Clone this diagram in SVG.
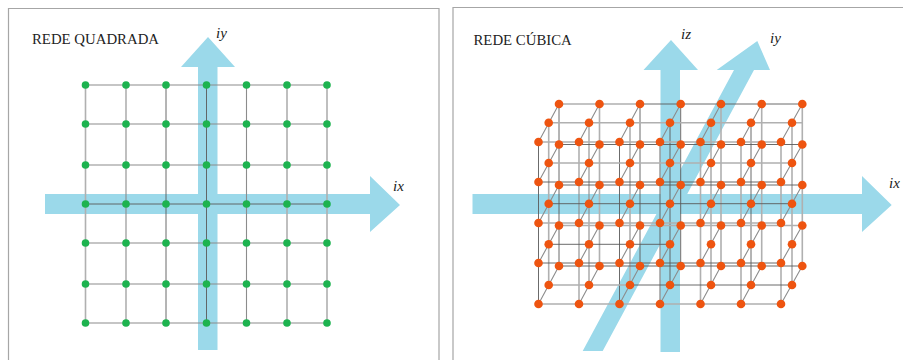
<svg xmlns="http://www.w3.org/2000/svg" width="903" height="360" viewBox="0 0 903 360">
<defs>
<circle id="g" r="3.8" fill="#1db34f"/>
<circle id="o" r="4.3" fill="#ee5410"/>
</defs>
<style>
.a{fill:#9bd9ea}
.l{fill:none;stroke:#b0b0b0;stroke-width:1.6}
.m{fill:none;stroke:#8c8c8c;stroke-width:1.1}
.d{fill:none;stroke:#5a5a5a;stroke-width:.9}
.p{fill:none;stroke:#a6a6a6;stroke-width:1.2}
.t{font-family:"Liberation Serif",serif;font-size:14.8px;fill:#222}
.i{font-family:"Liberation Serif",serif;font-size:15px;font-style:italic;fill:#222}
</style>
<rect width="903" height="360" fill="#fff"/>
<path class="p" d="M8.5 360V8.5H439V360M453 360V7.5H903"/>
<g id="arrows">
<path class="a" d="M45 194H370V176L400 205L370 232V214H45Z"/>
<path class="a" d="M198 350V67H181L208 37L235 67H217.500V350Z"/>
<path class="a" d="M582.700 351L734 70H716.700L757.300 41L770 70H754L602.700 351Z"/>
<path class="a" d="M472.500 194H862V176L891.700 205L862 232V214H472.500Z"/>
<path class="a" d="M660.500 352V70H643.500L671 40L698 70H680V352Z"/>
</g>
<g id="connectors">
<path class="m" d="M85.500 85H327M85.500 124H327M85.500 165H327M85.500 243H327M85.500 284H327M85.500 323H327"/>
<path class="d" d="M85.500 204H327M166 85V323M206.500 85V323"/>
<path class="l" d="M85.500 85V323M287 85V323M327 85V323"/>
<path class="m" d="M126 85V323M246.500 85V323"/>
<path class="m" d="M538.500 142L559 104M579 142L599.500 104M619.500 142L640 104M660 142L680.700 104M700.500 142L721 104M741 142L761.700 104M781 142L802.300 104M538.500 182L559 144.500M579 182L599.500 144.500M619.500 182L640 144.500M660 182L680.700 144.500M700.500 182L721 144.500M741 182L761.700 144.500M781 182L802.300 144.500M538.500 223L559 185M579 223L599.500 185M619.500 223L640 185M660 223L680.700 185M700.500 223L721 185M741 223L761.700 185M781 223L802.300 185M538.500 263L559 225.500M579 263L599.500 225.500M619.500 263L640 225.500M660 263L680.700 225.500M700.500 263L721 225.500M741 263L761.700 225.500M781 263L802.300 225.500M538.500 304L559 266M579 304L599.500 266M619.500 304L640 266M660 304L680.700 266M700.500 304L721 266M741 304L761.700 266M781 304L802.300 266"/>
<path class="d" d="M538.500 142V304M619.500 142V304M660 142V304M670 122.700V285M751 122.700V285M559 104V266M640 104V266M680.700 104V266"/>
<path class="m" d="M579 142V304M589 122.700V285"/>
<path class="l" d="M700.500 142V304M741 142V304M781 142V304M548.700 122.700V285M630 122.700V285M711 122.700V285M792 122.700V285M599.500 104V266M721 104V266M761.700 104V266M802.300 104V266"/>
<path class="l" d="M559 104H640M548.700 122.700H802M548.700 163H792M538.500 142H781M538.500 223H781M538.500 304H781M559 225.500H802.300M548.700 285H630"/>
<path class="d" d="M640 104H802.300M559 144.500H802.300M538.500 182H781M548.700 203.700H792M548.700 244.300H670M559 185H802.300M538.500 263H781M559 266H802.300M630 285H792"/>
</g>
<g id="labels">
<text class="t" x="32" y="44">REDE QUADRADA</text>
<text class="t" x="473.500" y="45">REDE CÚBICA</text>
<text class="i" x="216" y="38">iy</text>
<text class="i" x="393" y="191">ix</text>
<text class="i" x="681" y="39">iz</text>
<text class="i" x="770" y="43">iy</text>
<text class="i" x="889" y="188">ix</text>
</g>
<g id="square-lattice">
<g id="s11"><use href="#g" x="85.500" y="85"/></g><g id="s12"><use href="#g" x="126" y="85"/></g><g id="s13"><use href="#g" x="166" y="85"/></g><g id="s14"><use href="#g" x="206.500" y="85"/></g><g id="s15"><use href="#g" x="246.500" y="85"/></g><g id="s16"><use href="#g" x="287" y="85"/></g><g id="s17"><use href="#g" x="327" y="85"/></g>
<g id="s21"><use href="#g" x="85.500" y="124"/></g><g id="s22"><use href="#g" x="126" y="124"/></g><g id="s23"><use href="#g" x="166" y="124"/></g><g id="s24"><use href="#g" x="206.500" y="124"/></g><g id="s25"><use href="#g" x="246.500" y="124"/></g><g id="s26"><use href="#g" x="287" y="124"/></g><g id="s27"><use href="#g" x="327" y="124"/></g>
<g id="s31"><use href="#g" x="85.500" y="165"/></g><g id="s32"><use href="#g" x="126" y="165"/></g><g id="s33"><use href="#g" x="166" y="165"/></g><g id="s34"><use href="#g" x="206.500" y="165"/></g><g id="s35"><use href="#g" x="246.500" y="165"/></g><g id="s36"><use href="#g" x="287" y="165"/></g><g id="s37"><use href="#g" x="327" y="165"/></g>
<g id="s41"><use href="#g" x="85.500" y="204"/></g><g id="s42"><use href="#g" x="126" y="204"/></g><g id="s43"><use href="#g" x="166" y="204"/></g><g id="s44"><use href="#g" x="206.500" y="204"/></g><g id="s45"><use href="#g" x="246.500" y="204"/></g><g id="s46"><use href="#g" x="287" y="204"/></g><g id="s47"><use href="#g" x="327" y="204"/></g>
<g id="s51"><use href="#g" x="85.500" y="243"/></g><g id="s52"><use href="#g" x="126" y="243"/></g><g id="s53"><use href="#g" x="166" y="243"/></g><g id="s54"><use href="#g" x="206.500" y="243"/></g><g id="s55"><use href="#g" x="246.500" y="243"/></g><g id="s56"><use href="#g" x="287" y="243"/></g><g id="s57"><use href="#g" x="327" y="243"/></g>
<g id="s61"><use href="#g" x="85.500" y="284"/></g><g id="s62"><use href="#g" x="126" y="284"/></g><g id="s63"><use href="#g" x="166" y="284"/></g><g id="s64"><use href="#g" x="206.500" y="284"/></g><g id="s65"><use href="#g" x="246.500" y="284"/></g><g id="s66"><use href="#g" x="287" y="284"/></g><g id="s67"><use href="#g" x="327" y="284"/></g>
<g id="s71"><use href="#g" x="85.500" y="323"/></g><g id="s72"><use href="#g" x="126" y="323"/></g><g id="s73"><use href="#g" x="166" y="323"/></g><g id="s74"><use href="#g" x="206.500" y="323"/></g><g id="s75"><use href="#g" x="246.500" y="323"/></g><g id="s76"><use href="#g" x="287" y="323"/></g><g id="s77"><use href="#g" x="327" y="323"/></g>
</g>
<g id="cubic-lattice">
<g id="b11"><use href="#o" x="559" y="104"/></g><g id="b12"><use href="#o" x="599.500" y="104"/></g><g id="b13"><use href="#o" x="640" y="104"/></g><g id="b14"><use href="#o" x="680.700" y="104"/></g><g id="b15"><use href="#o" x="721" y="104"/></g><g id="b16"><use href="#o" x="761.700" y="104"/></g><g id="b17"><use href="#o" x="802.300" y="104"/></g>
<g id="b21"><use href="#o" x="559" y="144.500"/></g><g id="b22"><use href="#o" x="599.500" y="144.500"/></g><g id="b23"><use href="#o" x="640" y="144.500"/></g><g id="b24"><use href="#o" x="680.700" y="144.500"/></g><g id="b25"><use href="#o" x="721" y="144.500"/></g><g id="b26"><use href="#o" x="761.700" y="144.500"/></g><g id="b27"><use href="#o" x="802.300" y="144.500"/></g>
<g id="b31"><use href="#o" x="559" y="185"/></g><g id="b32"><use href="#o" x="599.500" y="185"/></g><g id="b33"><use href="#o" x="640" y="185"/></g><g id="b34"><use href="#o" x="680.700" y="185"/></g><g id="b35"><use href="#o" x="721" y="185"/></g><g id="b36"><use href="#o" x="761.700" y="185"/></g><g id="b37"><use href="#o" x="802.300" y="185"/></g>
<g id="b41"><use href="#o" x="559" y="225.500"/></g><g id="b42"><use href="#o" x="599.500" y="225.500"/></g><g id="b43"><use href="#o" x="640" y="225.500"/></g><g id="b44"><use href="#o" x="680.700" y="225.500"/></g><g id="b45"><use href="#o" x="721" y="225.500"/></g><g id="b46"><use href="#o" x="761.700" y="225.500"/></g><g id="b47"><use href="#o" x="802.300" y="225.500"/></g>
<g id="b51"><use href="#o" x="559" y="266"/></g><g id="b52"><use href="#o" x="599.500" y="266"/></g><g id="b53"><use href="#o" x="640" y="266"/></g><g id="b54"><use href="#o" x="680.700" y="266"/></g><g id="b55"><use href="#o" x="721" y="266"/></g><g id="b56"><use href="#o" x="761.700" y="266"/></g><g id="b57"><use href="#o" x="802.300" y="266"/></g>
<g id="m11"><use href="#o" x="548.700" y="122.700"/></g><g id="m12"><use href="#o" x="589" y="122.700"/></g><g id="m13"><use href="#o" x="630" y="122.700"/></g><g id="m14"><use href="#o" x="670" y="122.700"/></g><g id="m15"><use href="#o" x="711" y="122.700"/></g><g id="m16"><use href="#o" x="751" y="122.700"/></g><g id="m17"><use href="#o" x="792" y="122.700"/></g>
<g id="m21"><use href="#o" x="548.700" y="163"/></g><g id="m22"><use href="#o" x="589" y="163"/></g><g id="m23"><use href="#o" x="630" y="163"/></g><g id="m24"><use href="#o" x="670" y="163"/></g><g id="m25"><use href="#o" x="711" y="163"/></g><g id="m26"><use href="#o" x="751" y="163"/></g><g id="m27"><use href="#o" x="792" y="163"/></g>
<g id="m31"><use href="#o" x="548.700" y="203.700"/></g><g id="m32"><use href="#o" x="589" y="203.700"/></g><g id="m33"><use href="#o" x="630" y="203.700"/></g><g id="m34"><use href="#o" x="670" y="203.700"/></g><g id="m35"><use href="#o" x="711" y="203.700"/></g><g id="m36"><use href="#o" x="751" y="203.700"/></g><g id="m37"><use href="#o" x="792" y="203.700"/></g>
<g id="m41"><use href="#o" x="548.700" y="244.300"/></g><g id="m42"><use href="#o" x="589" y="244.300"/></g><g id="m43"><use href="#o" x="630" y="244.300"/></g><g id="m44"><use href="#o" x="670" y="244.300"/></g><g id="m45"><use href="#o" x="711" y="244.300"/></g><g id="m46"><use href="#o" x="751" y="244.300"/></g><g id="m47"><use href="#o" x="792" y="244.300"/></g>
<g id="m51"><use href="#o" x="548.700" y="285"/></g><g id="m52"><use href="#o" x="589" y="285"/></g><g id="m53"><use href="#o" x="630" y="285"/></g><g id="m54"><use href="#o" x="670" y="285"/></g><g id="m55"><use href="#o" x="711" y="285"/></g><g id="m56"><use href="#o" x="751" y="285"/></g><g id="m57"><use href="#o" x="792" y="285"/></g>
<g id="f11"><use href="#o" x="538.500" y="142"/></g><g id="f12"><use href="#o" x="579" y="142"/></g><g id="f13"><use href="#o" x="619.500" y="142"/></g><g id="f14"><use href="#o" x="660" y="142"/></g><g id="f15"><use href="#o" x="700.500" y="142"/></g><g id="f16"><use href="#o" x="741" y="142"/></g><g id="f17"><use href="#o" x="781" y="142"/></g>
<g id="f21"><use href="#o" x="538.500" y="182"/></g><g id="f22"><use href="#o" x="579" y="182"/></g><g id="f23"><use href="#o" x="619.500" y="182"/></g><g id="f24"><use href="#o" x="660" y="182"/></g><g id="f25"><use href="#o" x="700.500" y="182"/></g><g id="f26"><use href="#o" x="741" y="182"/></g><g id="f27"><use href="#o" x="781" y="182"/></g>
<g id="f31"><use href="#o" x="538.500" y="223"/></g><g id="f32"><use href="#o" x="579" y="223"/></g><g id="f33"><use href="#o" x="619.500" y="223"/></g><g id="f34"><use href="#o" x="660" y="223"/></g><g id="f35"><use href="#o" x="700.500" y="223"/></g><g id="f36"><use href="#o" x="741" y="223"/></g><g id="f37"><use href="#o" x="781" y="223"/></g>
<g id="f41"><use href="#o" x="538.500" y="263"/></g><g id="f42"><use href="#o" x="579" y="263"/></g><g id="f43"><use href="#o" x="619.500" y="263"/></g><g id="f44"><use href="#o" x="660" y="263"/></g><g id="f45"><use href="#o" x="700.500" y="263"/></g><g id="f46"><use href="#o" x="741" y="263"/></g><g id="f47"><use href="#o" x="781" y="263"/></g>
<g id="f51"><use href="#o" x="538.500" y="304"/></g><g id="f52"><use href="#o" x="579" y="304"/></g><g id="f53"><use href="#o" x="619.500" y="304"/></g><g id="f54"><use href="#o" x="660" y="304"/></g><g id="f55"><use href="#o" x="700.500" y="304"/></g><g id="f56"><use href="#o" x="741" y="304"/></g><g id="f57"><use href="#o" x="781" y="304"/></g>
</g>
</svg>
